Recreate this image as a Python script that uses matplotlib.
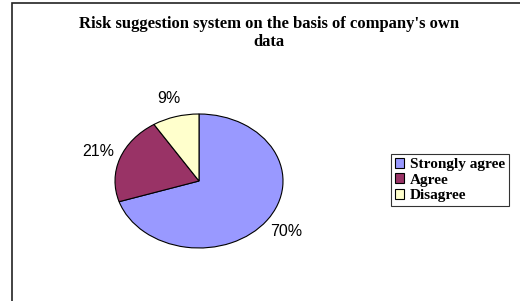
import matplotlib
matplotlib.use("Agg")
import matplotlib.pyplot as plt
from matplotlib.patches import Rectangle

# data
labels = ["Strongly agree", "Agree", "Disagree"]
values = [70, 21, 9]
colors = ["#9999FF", "#993366", "#FFFFCC"]
title = "Risk suggestion system on the basis of company's own\ndata"

W, H = 520, 301
fig = plt.figure(figsize=(W / 100, H / 100), dpi=100)

# outer chart frame (right and bottom edges run off the picture)
fig.patches.append(Rectangle((12 / W, -0.05), 1.1, 1 - 3 / H + 0.05,
                             transform=fig.transFigure, fill=False,
                             edgecolor="#222222", linewidth=1.2))

fig.text(269 / W, 1 - 33 / H, title, ha="center", va="center",
         family="Liberation Serif", weight="bold", fontsize=12,
         linespacing=1.15)

# pie is drawn flattened, so axes are not square
cx, cy, rx, ry = 199, 181, 84, 67
ax = fig.add_axes([(cx - rx) / W, (H - cy - ry) / H, 2 * rx / W, 2 * ry / H])
wedges, _, autotexts = ax.pie(values, colors=colors, startangle=90,
                              counterclock=False, autopct="%1.0f%%",
                              pctdistance=1.28,
                              wedgeprops=dict(edgecolor="black", linewidth=0.8))
for t in autotexts:
    t.set_family("Liberation Sans")
    t.set_fontsize(11.5)
ax.set_xlim(-1, 1)
ax.set_ylim(-1, 1)
ax.set_aspect("auto")
ax.axis("off")

leg = fig.legend(wedges, labels, loc="upper left",
                 bbox_to_anchor=(391 / W, 1 - 154 / H),
                 prop=dict(family="Liberation Serif", weight="bold", size=11),
                 frameon=True, fancybox=False, handlelength=0.6,
                 handleheight=0.6, handletextpad=0.4, borderpad=0.25,
                 labelspacing=0.15, borderaxespad=0)
leg.get_frame().set_edgecolor("black")
leg.get_frame().set_linewidth(0.8)

fig.savefig("out.png", dpi=100)
